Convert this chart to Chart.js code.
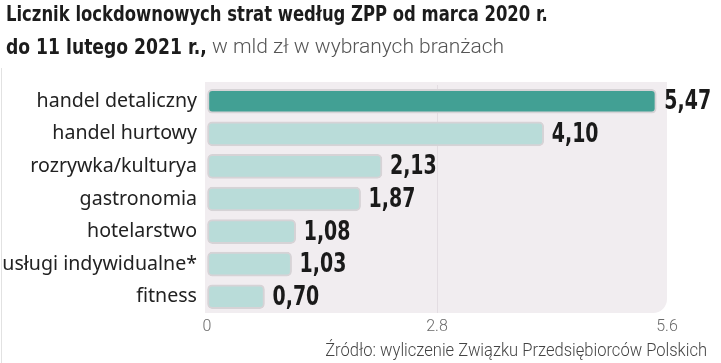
<!DOCTYPE html>
<html>
<head>
<meta charset="utf-8">
<script src="https://cdn.jsdelivr.net/npm/chart.js@4"></script>
<style>
  body { margin: 0; background: #fff; }
  #wrap { position: relative; width: 721px; height: 363px; overflow: hidden; }
  #chart { position: absolute; left: 0; top: 0; }
  .title { position: absolute; left: 6px; white-space: nowrap; color: #1c1c1c; }
  .bold { display: inline-block; font-family: "DejaVu Sans Condensed", sans-serif; font-weight: bold; font-size: 21px; transform: scaleX(0.87); transform-origin: left center; }
  .light { position: absolute; top: 0; font-family: Roboto, sans-serif; font-weight: 300; font-size: 21px; color: #555; }
  #source { position: absolute; right: 14px; top: 340px; font-family: Roboto, sans-serif; font-weight: 300; font-size: 17.5px; color: #444; white-space: nowrap; transform: scaleX(0.945); transform-origin: right center; }
  #edge { position: absolute; left: 1px; top: 68px; width: 0; height: 295px; border-left: 1px solid #e2e2e2; }
</style>
</head>
<body>
<div id="wrap">
  <canvas id="chart" width="721" height="363"></canvas>
  <div class="title" style="top:2px"><span class="bold">Licznik lockdownowych strat według ZPP od marca 2020 r.</span></div>
  <div class="title" style="top:35px"><span class="bold" style="transform:scaleX(0.91)">do 11 lutego 2021 r.,</span><span class="light" style="left:206px;top:-1px">w mld zł w wybranych branżach</span></div>
  <div id="source">Źródło: wyliczenie Związku Przedsiębiorców Polskich</div>
  <div id="edge"></div>
</div>
<script>
const categories = ['handel detaliczny', 'handel hurtowy', 'rozrywka/kulturya', 'gastronomia', 'hotelarstwo', 'usługi indywidualne*', 'fitness'];
const losses = [5.47, 4.10, 2.13, 1.87, 1.08, 1.03, 0.70];
const tickValues = [0, 2.8, 5.6];

const barColors = losses.map((v, i) => i === 0 ? '#42a094' : '#b9dcd9');

const plotBackground = {
    id: 'plotBackground',
    beforeDraw(chart) {
        const { ctx, chartArea: a } = chart;
        ctx.save();
        ctx.fillStyle = '#f1edf0';
        ctx.beginPath();
        ctx.roundRect(a.left - 2, a.top - 3, a.right - a.left + 2, a.bottom - a.top + 3, [0, 0, 14, 0]);
        ctx.fill();
        ctx.restore();
    }
};

const valueLabels = {
    id: 'valueLabels',
    afterDatasetsDraw(chart) {
        const { ctx } = chart;
        const meta = chart.getDatasetMeta(0);
        ctx.save();
        ctx.font = 'bold 27px "DejaVu Sans Condensed", sans-serif';
        ctx.fillStyle = '#1a1a1a';
        ctx.textBaseline = 'middle';
        meta.data.forEach((bar, i) => {
            ctx.save();
            ctx.translate(bar.x + 8, bar.y + 1);
            ctx.scale(0.78, 1);
            ctx.fillText(losses[i].toFixed(2).replace('.', ','), 0, 0);
            ctx.restore();
        });
        ctx.restore();
    }
};

new Chart(document.getElementById('chart'), {
    type: 'bar',
    data: {
        labels: categories,
        datasets: [{
            data: losses,
            backgroundColor: barColors,
            borderColor: '#d6d3d6',
            borderWidth: 2,
            borderRadius: 5,
            borderSkipped: false,
            barThickness: 24
        }]
    },
    options: {
        indexAxis: 'y',
        responsive: false,
        animation: false,
        layout: { padding: { left: 0, right: 54, top: 85, bottom: 28 } },
        plugins: { legend: { display: false }, tooltip: { enabled: false } },
        scales: {
            x: {
                min: 0,
                max: 5.6,
                afterBuildTicks: (scale) => { scale.ticks = tickValues.map(v => ({ value: v })); },
                grid: {
                    drawTicks: false,
                    color: (c) => c.tick && c.tick.value === 2.8 ? '#e3dde2' : 'rgba(0,0,0,0)'
                },
                border: { display: false },
                ticks: {
                    padding: 4,
                    color: '#6a6a6a',
                    font: { family: 'Roboto', size: 16, weight: '300' },
                    callback: (v) => String(v)
                },
                afterFit: (scale) => { scale.height = 22; }
            },
            y: {
                grid: { display: false, drawTicks: false },
                border: { display: false },
                ticks: {
                    padding: 10,
                    color: '#222',
                    font: { family: 'Noto Sans', size: 19.6 }
                },
                afterFit: (scale) => { scale.width = 207; }
            }
        }
    },
    plugins: [plotBackground, valueLabels]
});
</script>
</body>
</html>
